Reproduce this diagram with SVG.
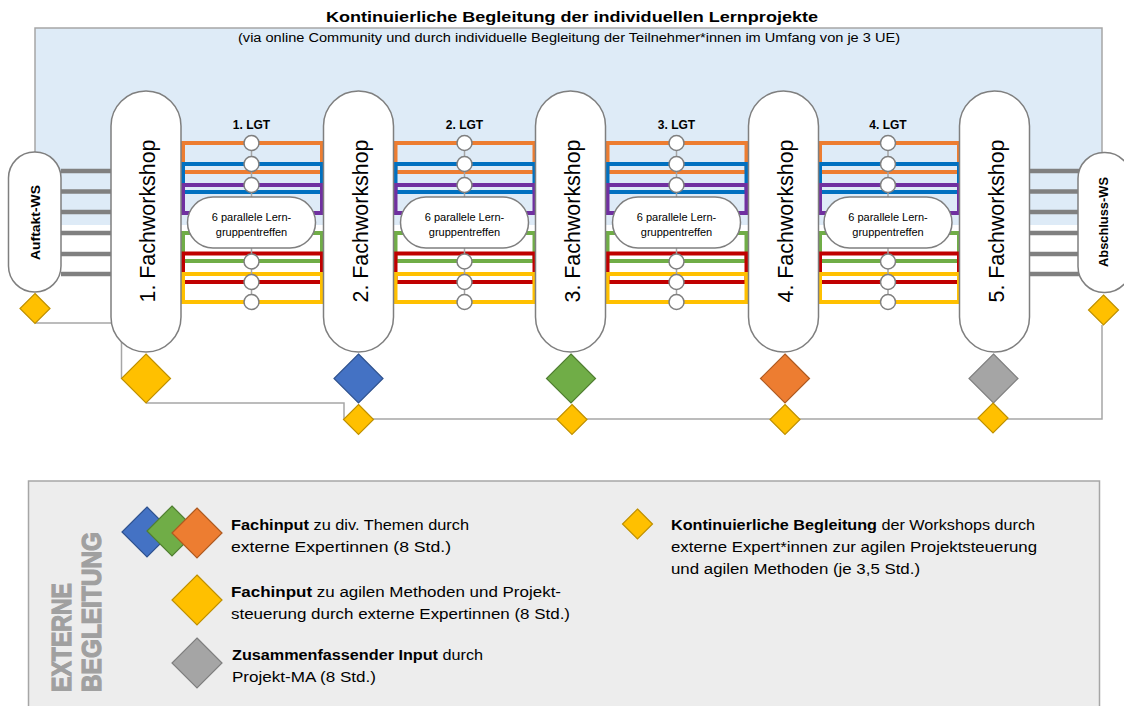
<svg xmlns="http://www.w3.org/2000/svg" width="1124" height="706" viewBox="0 0 1124 706">
<defs>
<style>
.t{font-family:"Liberation Sans",Arial,sans-serif;fill:#000}
.pill{fill:#fff;stroke:#7f7f7f;stroke-width:1.5}
.thin{fill:none;stroke:#a6a6a6;stroke-width:1.5}
.thick{stroke:#808080;stroke-width:4.5}
.lane{fill:none;stroke-width:4}
.circ{fill:#fff;stroke:#7f7f7f;stroke-width:1.5}
.dy{fill:#ffc000;stroke:#bf9000;stroke-width:1.2}
.db{fill:#4472c4;stroke:#2f528f;stroke-width:1.2}
.dg{fill:#70ad47;stroke:#507e32;stroke-width:1.2}
.do{fill:#ed7d31;stroke:#ae5a21;stroke-width:1.2}
.dgr{fill:#a5a5a5;stroke:#7f7f7f;stroke-width:1.2}
.fw{font-size:22px}
.lgt{font-size:12px;font-weight:bold}
.small{font-size:11px}
.leg{font-size:14px}
.big{font-size:27px;font-weight:bold;fill:#a0a0a0;stroke:#a0a0a0;stroke-width:1.2}
</style>
<g id="lanes">
<rect class="lane" x="0" y="143" width="139" height="29" stroke="#ED7D31"/>
<rect class="lane" x="0" y="164" width="139" height="28" stroke="#0070C0"/>
<rect class="lane" x="0" y="185" width="139" height="28" stroke="#7030A0"/>
<rect class="lane" x="0" y="233" width="139" height="28" stroke="#70AD47"/>
<rect class="lane" x="0" y="253.5" width="139" height="28.5" stroke="#C00000"/>
<rect class="lane" x="0" y="274" width="139" height="28" stroke="#FFC000"/>
</g>
<g id="chain">
<line x1="0" y1="143" x2="0" y2="302" stroke="#a6a6a6" stroke-width="1.5"/>
<circle class="circ" cx="0" cy="143" r="7.5"/>
<circle class="circ" cx="0" cy="164" r="7.5"/>
<circle class="circ" cx="0" cy="185" r="7.5"/>
<circle class="circ" cx="0" cy="261.5" r="7.5"/>
<circle class="circ" cx="0" cy="282" r="7.5"/>
<circle class="circ" cx="0" cy="302" r="7.5"/>
<rect class="pill" x="-64" y="197" width="128" height="51" rx="25.5"/>
<text class="t small" x="0" y="221" text-anchor="middle">6 parallele Lern-</text>
<text class="t small" x="0" y="235.5" text-anchor="middle">gruppentreffen</text>
</g>
<path id="dm" d="M0,-24.5L24.5,0L0,24.5L-24.5,0Z"/>
<path id="dl" d="M0,-25L25,0L0,25L-25,0Z"/>
<path id="ds" d="M0,-15L15,0L0,15L-15,0Z"/>
</defs>

<g id="header">
<rect x="35" y="28" width="1067" height="197" fill="#DEEBF7"/>
<path class="thin" d="M35,152V28H1102V152" stroke="#a0a0a0"/>
<text class="t" x="572" y="22" text-anchor="middle" font-size="15.5" font-weight="bold" textLength="492" lengthAdjust="spacingAndGlyphs">Kontinuierliche Begleitung der individuellen Lernprojekte</text>
<text class="t" x="569" y="42" text-anchor="middle" font-size="12" textLength="662" lengthAdjust="spacingAndGlyphs">(via online Community und durch individuelle Begleitung der Teilnehmer*innen im Umfang von je 3 UE)</text>
</g>

<g id="connectors">
<g id="gray-links">
<line class="thick" x1="61" y1="171" x2="112" y2="171"/>
<line class="thick" x1="61" y1="191.5" x2="112" y2="191.5"/>
<line class="thick" x1="61" y1="212" x2="112" y2="212"/>
<line class="thick" x1="61" y1="233" x2="112" y2="233"/>
<line class="thick" x1="61" y1="254" x2="112" y2="254"/>
<line class="thick" x1="61" y1="274" x2="112" y2="274"/>
<line class="thick" x1="1029" y1="171" x2="1079" y2="171"/>
<line class="thick" x1="1029" y1="191.5" x2="1079" y2="191.5"/>
<line class="thick" x1="1029" y1="212" x2="1079" y2="212"/>
<line class="thick" x1="1029" y1="233" x2="1079" y2="233"/>
<line class="thick" x1="1029" y1="254" x2="1079" y2="254"/>
<line class="thick" x1="1029" y1="274" x2="1079" y2="274"/>
</g>
<use href="#lanes" transform="translate(183,0)"/>
<use href="#lanes" transform="translate(395.5,0)"/>
<use href="#lanes" transform="translate(607.5,0)"/>
<use href="#lanes" transform="translate(820,0)"/>
<path class="thin" d="M35,323H121.5V378.5"/>
<path class="thin" d="M146,403H344V419"/>
<path class="thin" d="M373,419H1102V325"/>
</g>

<g id="lgt1">
<use href="#chain" transform="translate(251.5,0)"/>
<text class="t lgt" x="251.5" y="128.5" text-anchor="middle">1. LGT</text>
</g>
<g id="lgt2">
<use href="#chain" transform="translate(464.5,0)"/>
<text class="t lgt" x="464.5" y="128.5" text-anchor="middle">2. LGT</text>
</g>
<g id="lgt3">
<use href="#chain" transform="translate(676.5,0)"/>
<text class="t lgt" x="676.5" y="128.5" text-anchor="middle">3. LGT</text>
</g>
<g id="lgt4">
<use href="#chain" transform="translate(888,0)"/>
<text class="t lgt" x="888" y="128.5" text-anchor="middle">4. LGT</text>
</g>

<g id="auftakt">
<rect class="pill" x="8.5" y="152" width="52.5" height="140" rx="26"/>
<text class="t" transform="translate(40,222.5) rotate(-90)" text-anchor="middle" font-size="12.5" font-weight="bold" textLength="75" lengthAdjust="spacingAndGlyphs">Auftakt-WS</text>
<use href="#ds" class="dy" x="35" y="308.5"/>
</g>
<g id="abschluss">
<rect class="pill" x="1078" y="152.5" width="53" height="140" rx="26"/>
<text class="t" transform="translate(1108,222) rotate(-90)" text-anchor="middle" font-size="12.5" font-weight="bold" textLength="90" lengthAdjust="spacingAndGlyphs">Abschluss-WS</text>
<use href="#ds" class="dy" x="1103.5" y="310"/>
</g>

<g id="fw1">
<rect class="pill" x="111" y="91" width="70" height="261" rx="35"/>
<text class="t fw" transform="translate(155,221) rotate(-90)" text-anchor="middle" textLength="163" lengthAdjust="spacingAndGlyphs">1. Fachworkshop</text>
<use href="#dm" class="dy" x="146" y="378.5"/>
</g>
<g id="fw2">
<rect class="pill" x="323.5" y="91" width="70" height="261" rx="35"/>
<text class="t fw" transform="translate(367.5,221) rotate(-90)" text-anchor="middle" textLength="163" lengthAdjust="spacingAndGlyphs">2. Fachworkshop</text>
<use href="#dm" class="db" x="358.5" y="378.5"/>
<use href="#ds" class="dy" x="358.5" y="419.5"/>
</g>
<g id="fw3">
<rect class="pill" x="535.5" y="91" width="70" height="261" rx="35"/>
<text class="t fw" transform="translate(579.5,221) rotate(-90)" text-anchor="middle" textLength="163" lengthAdjust="spacingAndGlyphs">3. Fachworkshop</text>
<use href="#dm" class="dg" x="571" y="378.5"/>
<use href="#ds" class="dy" x="572" y="419.5"/>
</g>
<g id="fw4">
<rect class="pill" x="748.5" y="91" width="70" height="261" rx="35"/>
<text class="t fw" transform="translate(792.5,221) rotate(-90)" text-anchor="middle" textLength="163" lengthAdjust="spacingAndGlyphs">4. Fachworkshop</text>
<use href="#dm" class="do" x="785" y="378.5"/>
<use href="#ds" class="dy" x="785" y="419.5"/>
</g>
<g id="fw5">
<rect class="pill" x="959.5" y="91" width="70" height="261" rx="35"/>
<text class="t fw" transform="translate(1003.5,221) rotate(-90)" text-anchor="middle" textLength="163" lengthAdjust="spacingAndGlyphs">5. Fachworkshop</text>
<use href="#dm" class="dgr" x="993.5" y="378.5"/>
<use href="#ds" class="dy" x="993" y="418"/>
</g>

<g id="legend">
<rect x="28.5" y="481" width="1071" height="240" fill="#EDEDED" stroke="#a6a6a6" stroke-width="1.5"/>
<text class="t big" transform="translate(71,692) rotate(-90)" textLength="109" lengthAdjust="spacingAndGlyphs">EXTERNE</text>
<text class="t big" transform="translate(101,692) rotate(-90)" textLength="160" lengthAdjust="spacingAndGlyphs">BEGLEITUNG</text>
<use href="#dl" class="db" x="147" y="532"/>
<use href="#dl" class="dg" x="172" y="531"/>
<use href="#dl" class="do" x="197" y="533"/>
<text class="t leg" x="231" y="530" textLength="238" lengthAdjust="spacingAndGlyphs"><tspan font-weight="bold">Fachinput</tspan> zu div. Themen durch</text>
<text class="t leg" x="231" y="552" textLength="220" lengthAdjust="spacingAndGlyphs">externe Expertinnen (8 Std.)</text>
<use href="#dl" class="dy" x="197" y="600"/>
<text class="t leg" x="231" y="597" textLength="330" lengthAdjust="spacingAndGlyphs"><tspan font-weight="bold">Fachinput</tspan> zu agilen Methoden und Projekt-</text>
<text class="t leg" x="231" y="619" textLength="339" lengthAdjust="spacingAndGlyphs">steuerung durch externe  Expertinnen (8 Std.)</text>
<use href="#dl" class="dgr" x="197" y="663"/>
<text class="t leg" x="232" y="660" textLength="251" lengthAdjust="spacingAndGlyphs"><tspan font-weight="bold">Zusammenfassender Input</tspan> durch</text>
<text class="t leg" x="232" y="682" textLength="144" lengthAdjust="spacingAndGlyphs">Projekt-MA (8 Std.)</text>
<use href="#ds" class="dy" x="637.5" y="524"/>
<text class="t leg" x="671" y="530" textLength="364" lengthAdjust="spacingAndGlyphs"><tspan font-weight="bold">Kontinuierliche Begleitung</tspan> der Workshops durch</text>
<text class="t leg" x="671" y="552" textLength="366" lengthAdjust="spacingAndGlyphs">externe Expert*innen zur agilen Projektsteuerung</text>
<text class="t leg" x="671" y="574" textLength="249" lengthAdjust="spacingAndGlyphs">und agilen Methoden (je 3,5 Std.)</text>
</g>
</svg>
